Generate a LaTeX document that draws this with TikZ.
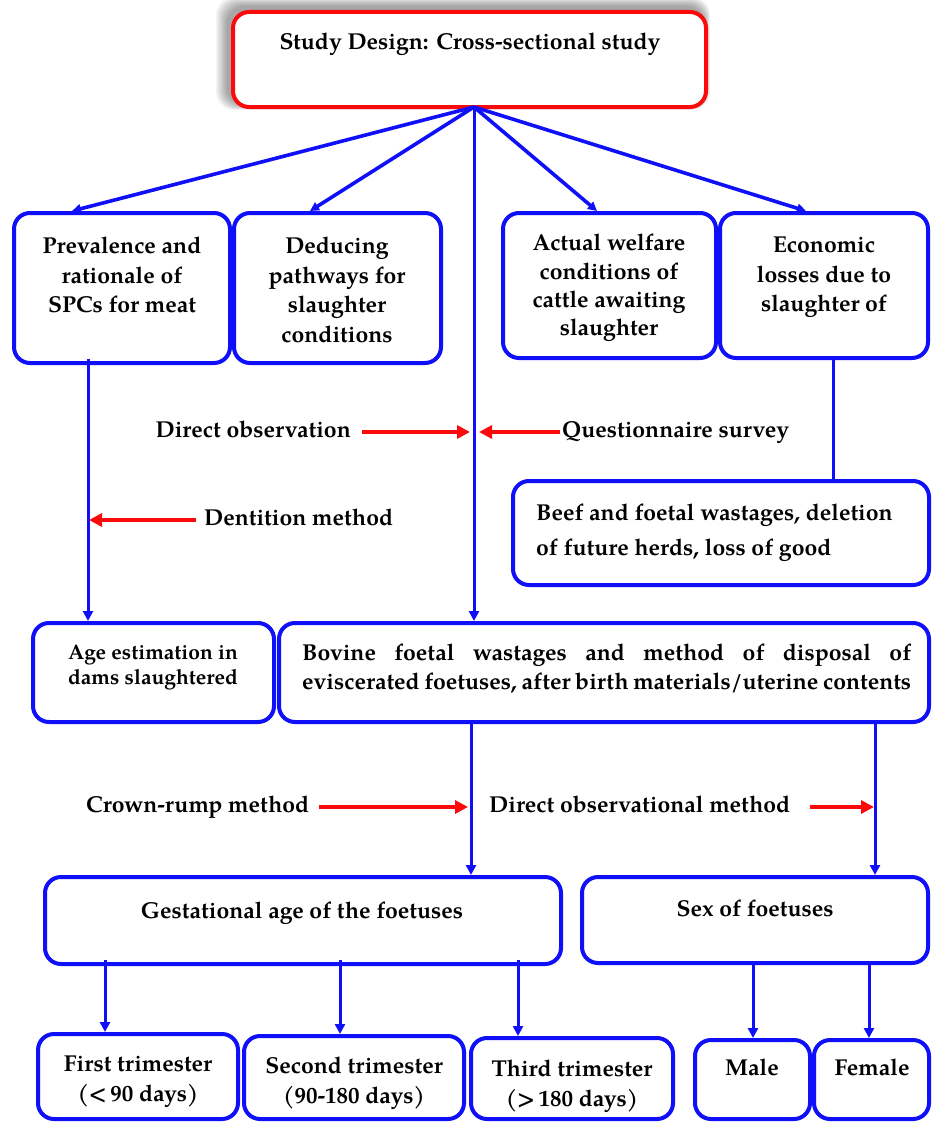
\documentclass[tikz,border=0pt]{standalone}
\usepackage{fontspec}
\setmainfont{texgyrepagella}[Extension=.otf,UprightFont=*-regular,BoldFont=*-bold,ItalicFont=*-italic,BoldItalicFont=*-bolditalic]
\usetikzlibrary{arrows.meta,fit,calc}
\definecolor{bblue}{RGB}{15,15,250}
\definecolor{rred}{RGB}{250,10,10}
\begin{document}
\begin{tikzpicture}[x=1pt,y=-1pt,
 box/.style={draw=bblue, line width=4pt, rounded corners=16pt, inner sep=0pt, fill=white},
 redbox/.style={box, draw=rred},
 txt/.style={font=\fontsize{23}{29.5}\selectfont\bfseries, align=center, inner sep=0pt, anchor=north},
 lbl/.style={font=\fontsize{23}{29}\selectfont\bfseries, inner sep=0pt, text height=16pt, text depth=5pt},
 conn/.style={draw=bblue, line width=3pt},
 carrow/.style={conn, -{Triangle[length=10pt,width=10pt]}},
 fanarrow/.style={carrow, line width=3.6pt, -{Triangle[length=9pt,width=9pt]}},
 rarrow/.style={draw=rred, line width=3.8pt, -{Triangle[length=13pt,width=13pt]}}
]
\useasboundingbox (0,0) rectangle (933,1124);
\fill[white] (0,0) rectangle (933,1124);
% shadow of top box
\foreach \i in {1,...,10}{
  \fill[black, opacity=0.04, rounded corners=18pt] (233-5-\i*1.2,12-5-\i) rectangle (706-2+\i*0.6,107-3+\i*0.6);
}
% boxes
\node[redbox, fit={(233,12)(706,107)}] (T) {};
\node[box, fit={(14,213)(230,363)}] (A) {};
\node[box, fit={(234,213)(441,363)}] (B) {};
\node[box, fit={(503,213)(716,358)}] (C) {};
\node[box, fit={(720,213)(928,358)}] (D) {};
\node[box, fit={(513,481)(929,585)}] (E) {};
\node[box, fit={(33,623)(274,722)}] (F) {};
\node[box, fit={(279,623)(929,722)}] (G) {};
\node[box, fit={(45,877)(561,964)}] (H) {};
\node[box, fit={(582,877)(928,963)}] (S) {};
\node[box, fit={(38,1034)(238,1119)}] (I) {};
\node[box, fit={(244,1036)(464,1119)}] (J) {};
\node[box, fit={(471,1038)(673,1119)}] (K) {};
\node[box, fit={(695,1040)(810,1119)}] (L) {};
\node[box, fit={(814,1040)(929,1119)}] (M) {};
% texts in boxes
\node[txt] (Tt) at (470,33) {Study Design: Cross-sectional study};
\node[txt] (At) at (122,237) {Prevalence and\\rationale of\\SPCs for meat};
\node[txt] (Bt) at (337,237) {Deducing\\pathways for\\slaughter\\conditions};
\node[txt, font=\fontsize{23}{28.3}\selectfont\bfseries] (Ct) at (609,234) {Actual welfare\\conditions of\\cattle awaiting\\slaughter};
\node[txt] (Dt) at (824,237) {Economic\\losses due to\\slaughter of};
\node[txt, anchor=north west, align=left, font=\fontsize{23}{35}\selectfont\bfseries] (Et) at (536,504) {Beef and foetal wastages, deletion\\of future herds, loss of good};
\node[txt, font=\fontsize{21}{25}\selectfont\bfseries] (Ft) at (153,645) {Age estimation in\\dams slaughtered};
\node[txt, anchor=north west, align=left, font=\fontsize{23}{29}\selectfont\bfseries] (Gt) at (302,644) {\makebox[609pt][s]{Bovine foetal wastages and method of disposal of}\\\makebox[609pt][s]{eviscerated foetuses, after birth materials/uterine contents}};
\node[txt] (Ht) at (302,902) {Gestational age of the foetuses};
\node[txt] (St) at (755,900) {Sex of foetuses};
\node[txt] (It) at (138,1056) {First trimester\\(<\,90 days)};
\node[txt] (Jt) at (354,1057) {Second trimester\\(90-180 days)};
\node[txt] (Kt) at (572,1060) {Third trimester\\(>\,180 days)};
\node[txt] (Lt) at (752,1059) {Male};
\node[txt] (Mt) at (872,1059) {Female};
% outside labels
\node[lbl, anchor=east] (dobs) at (351,432) {Direct observation};
\node[lbl, anchor=west] (qs) at (562,432) {Questionnaire survey};
\node[lbl, anchor=west] (dm) at (204,520) {Dentition method};
\node[lbl, anchor=west] (cr) at (86,807) {Crown-rump method};
\node[lbl, anchor=west] (dom) at (489,807) {Direct observational method};
% x positions of connectors
\coordinate (xo) at (474,107);
\coordinate (xa) at (72,0);
\coordinate (xb) at (310,0);
\coordinate (xc) at (597,0);
\coordinate (xd) at (806,0);
\coordinate (xv) at (474,0);
\coordinate (xf) at (88,0);
\coordinate (xe) at (833,0);
\coordinate (xh) at (471,0);
\coordinate (xs) at (875,0);
\coordinate (xi) at (105,0);
\coordinate (xj) at (340,0);
\coordinate (xk) at (518,0);
\coordinate (xl) at (753,0);
\coordinate (xm) at (869,0);
% fan
\draw[fanarrow] (xo) -- (xa |- A.north);
\draw[fanarrow] (xo) -- (xb |- B.north);
\draw[fanarrow] (xo) -- (xc |- C.north);
\draw[fanarrow] (xo) -- (xd |- D.north);
\draw[carrow] (xo) -- (xv |- G.north);
% other connectors
\draw[carrow] ([yshift=6pt]xf |- A.south) -- (xf |- F.north);
\draw[conn] (xe |- D.south) -- (xe |- E.north);
\draw[carrow] (xh |- G.south) -- (xh |- H.north);
\draw[carrow] (xs |- G.south) -- (xs |- S.north);
\draw[carrow] ([yshift=6pt]xi |- H.south) -- (xi |- I.north);
\draw[carrow] ([yshift=6pt]xj |- H.south) -- (xj |- J.north);
\draw[carrow] ([yshift=6pt]xk |- H.south) -- (xk |- K.north);
\draw[carrow] ([yshift=4pt]xl |- S.south) -- (xl |- L.north);
\draw[carrow] ([yshift=4pt]xm |- S.south) -- (xm |- M.north);
% red arrows
\coordinate (r1e) at (470,432);
\coordinate (r2e) at (479,432);
\coordinate (r3e) at (89,520);
\coordinate (r4e) at (468,807);
\coordinate (r5e) at (874,807);
\draw[rarrow] ([xshift=11pt]dobs.east) -- (r1e);
\draw[rarrow] ([xshift=-2pt]qs.west) -- (r2e);
\draw[rarrow] ([xshift=-8pt]dm.west) -- (r3e);
\draw[rarrow] ([xshift=10pt]cr.east) -- (r4e);
\draw[rarrow] ([xshift=20pt]dom.east) -- (r5e);
\end{tikzpicture}
\end{document}
